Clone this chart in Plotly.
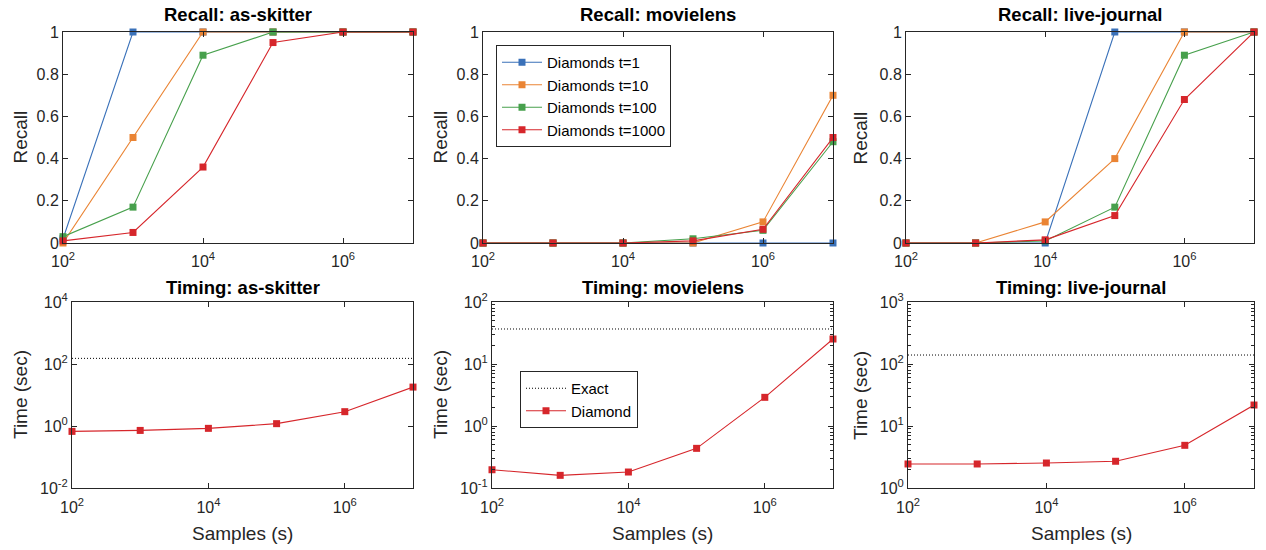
import plotly.graph_objects as go

W, H = 1266, 550
FONT = "Liberation Sans, Arial, sans-serif"
AX = "#262626"

samples = [1e2, 1e3, 1e4, 1e5, 1e6, 1e7]
series_names = ["Diamonds t=1", "Diamonds t=10", "Diamonds t=100", "Diamonds t=1000"]
series_colors = ["#3a71b9", "#ea8434", "#47a04c", "#d6262b"]

# Recall values per dataset, per t
recall_as_skitter = [
    [0.02, 1.0, 1.0, 1.0, 1.0, 1.0],
    [0.0, 0.50, 1.0, 1.0, 1.0, 1.0],
    [0.03, 0.17, 0.89, 1.0, 1.0, 1.0],
    [0.01, 0.05, 0.36, 0.95, 1.0, 1.0],
]
recall_movielens = [
    [0.0, 0.0, 0.0, 0.0, 0.0, 0.0],
    [0.0, 0.0, 0.0, 0.0, 0.10, 0.70],
    [0.0, 0.0, 0.0, 0.02, 0.06, 0.48],
    [0.0, 0.0, 0.0, 0.01, 0.065, 0.50],
]
recall_live_journal = [
    [0.0, 0.0, 0.0, 1.0, 1.0, 1.0],
    [0.0, 0.0, 0.10, 0.40, 1.0, 1.0],
    [0.0, 0.0, 0.01, 0.17, 0.89, 1.0],
    [0.0, 0.0, 0.015, 0.13, 0.68, 1.0],
]

# Timing (sec)
time_as_skitter = [0.67, 0.72, 0.84, 1.19, 2.9, 18.0]
time_movielens = [0.197, 0.16, 0.181, 0.436, 2.9, 25.3]
time_live_journal = [2.44, 2.44, 2.53, 2.7, 4.88, 21.8]
exact_as_skitter = 152.0
exact_movielens = 36.7
exact_live_journal = 139.6

datasets = ["as-skitter", "movielens", "live-journal"]
recalls = [recall_as_skitter, recall_movielens, recall_live_journal]
times = [time_as_skitter, time_movielens, time_live_journal]
exacts = [exact_as_skitter, exact_movielens, exact_live_journal]

# layout geometry (pixels)
top_x = [(63, 413), (483, 833), (906, 1254)]
bot_x = [(72, 413), (492, 833), (908, 1254)]
top_y = (32, 243)
bot_y = (302, 488)
ylab_x = [20, 440, 860]

def px(v):
    return v / W

def py(v):
    return 1 - v / H

def sup(e):
    return "10<sup>%d</sup>" % e

fig = go.Figure()
layout = dict(
    width=W, height=H, margin=dict(l=0, r=0, t=0, b=0, autoexpand=False),
    paper_bgcolor="white", plot_bgcolor="white",
    font=dict(family=FONT, size=16, color=AX),
    showlegend=True,
)
annotations = []

def axis_common():
    return dict(
        showline=True, linecolor=AX, linewidth=1, mirror="ticks",
        ticks="inside", ticklen=5, tickcolor=AX, showgrid=False, zeroline=False,
        automargin=False,
        tickfont=dict(family=FONT, size=16, color=AX),
    )

def label(text, x, y, size, angle=0, color=AX):
    return dict(text=text, x=px(x), y=py(y), xref="paper", yref="paper",
                xanchor="center", yanchor="middle", showarrow=False, textangle=angle,
                font=dict(family=FONT, size=size, color=color))

bot_y_ranges = [(-2, 4), (-1, 2), (0, 3)]
bot_y_tickvals = [[1e-2, 1, 1e2, 1e4], [1e-1, 1, 1e1, 1e2], [1, 1e1, 1e2, 1e3]]
bot_y_ticktext = [[sup(-2), sup(0), sup(2), sup(4)],
                  [sup(-1), sup(0), sup(1), sup(2)],
                  [sup(0), sup(1), sup(2), sup(3)]]
bot_minor = [False, True, True]

for i in range(3):
    n_top = 2 * i + 1
    n_bot = 2 * i + 2
    xa_t = "xaxis" if n_top == 1 else "xaxis%d" % n_top
    ya_t = "yaxis" if n_top == 1 else "yaxis%d" % n_top
    xa_b = "xaxis%d" % n_bot
    ya_b = "yaxis%d" % n_bot
    xr_t = "x" if n_top == 1 else "x%d" % n_top
    yr_t = "y" if n_top == 1 else "y%d" % n_top
    xr_b = "x%d" % n_bot
    yr_b = "y%d" % n_bot

    # top: recall
    ax = axis_common()
    ax.update(type="log", range=[2, 7], domain=[px(top_x[i][0]), px(top_x[i][1])],
              tickvals=[1e2, 1e4, 1e6], ticktext=[sup(2), sup(4), sup(6)], anchor=yr_t,
              ticklabelstandoff=4)
    layout[xa_t] = ax
    ay = axis_common()
    ay.update(range=[0, 1], domain=[py(top_y[1]), py(top_y[0])],
              tickvals=[0, 0.2, 0.4, 0.6, 0.8, 1],
              ticktext=["0", "0.2", "0.4", "0.6", "0.8", "1"], anchor=xr_t)
    layout[ya_t] = ay
    for k in range(4):
        fig.add_trace(go.Scatter(
            x=samples, y=recalls[i][k], mode="lines+markers", name=series_names[k],
            line=dict(color=series_colors[k], width=1.1),
            marker=dict(symbol="square", size=7, color=series_colors[k]),
            xaxis=xr_t, yaxis=yr_t, showlegend=(i == 1), legend="legend",
            cliponaxis=False,
        ))

    # bottom: timing
    bx = axis_common()
    bx.update(type="log", range=[2, 7], domain=[px(bot_x[i][0]), px(bot_x[i][1])],
              tickvals=[1e2, 1e4, 1e6], ticktext=[sup(2), sup(4), sup(6)], anchor=yr_b,
              ticklabelstandoff=5)
    layout[xa_b] = bx
    by = axis_common()
    by.update(type="log", range=list(bot_y_ranges[i]),
              domain=[py(bot_y[1]), py(bot_y[0])],
              tickvals=bot_y_tickvals[i], ticktext=bot_y_ticktext[i], anchor=xr_b)
    if bot_minor[i]:
        lo, hi = bot_y_ranges[i]
        mv = [m * 10 ** d for d in range(lo, hi) for m in range(2, 10)]
        by["minor"] = dict(ticks="inside", ticklen=3, tickcolor=AX, tickvals=mv, showgrid=False)
    layout[ya_b] = by
    fig.add_trace(go.Scatter(
        x=[samples[0], samples[-1]], y=[exacts[i], exacts[i]], mode="lines", name="Exact",
        line=dict(color="black", width=1, dash="1px,2px"),
        xaxis=xr_b, yaxis=yr_b, showlegend=(i == 1), legend="legend2",
    ))
    fig.add_trace(go.Scatter(
        x=samples, y=times[i], mode="lines+markers", name="Diamond",
        line=dict(color=series_colors[3], width=1.1),
        marker=dict(symbol="square", size=7, color=series_colors[3]),
        xaxis=xr_b, yaxis=yr_b, showlegend=(i == 1), legend="legend2",
        cliponaxis=False,
    ))

    cx_t = (top_x[i][0] + top_x[i][1]) / 2
    cx_b = (bot_x[i][0] + bot_x[i][1]) / 2
    annotations.append(label("<b>Recall: %s</b>" % datasets[i], cx_t, 15, 18.5, color="black"))
    annotations.append(label("<b>Timing: %s</b>" % datasets[i], cx_b, 287, 18.5, color="black"))
    annotations.append(label("Recall", ylab_x[i], (top_y[0] + top_y[1]) / 2, 19, angle=-90))
    annotations.append(label("Time (sec)", ylab_x[i], (bot_y[0] + bot_y[1]) / 2, 19, angle=-90))
    annotations.append(label("Samples (s)", cx_b, 533, 19))

layout["annotations"] = annotations
layout["legend"] = dict(x=px(496), y=py(45), xanchor="left", yanchor="top",
                        bordercolor=AX, borderwidth=1, bgcolor="white",
                        font=dict(family=FONT, size=15, color="black"),
                        tracegroupgap=0, itemwidth=40)
layout["legend2"] = dict(x=px(520), y=py(371), xanchor="left", yanchor="top",
                         bordercolor=AX, borderwidth=1, bgcolor="white",
                         font=dict(family=FONT, size=15, color="black"),
                         tracegroupgap=0, itemwidth=40)
fig.update_layout(**layout)
fig.write_html("out.html")
